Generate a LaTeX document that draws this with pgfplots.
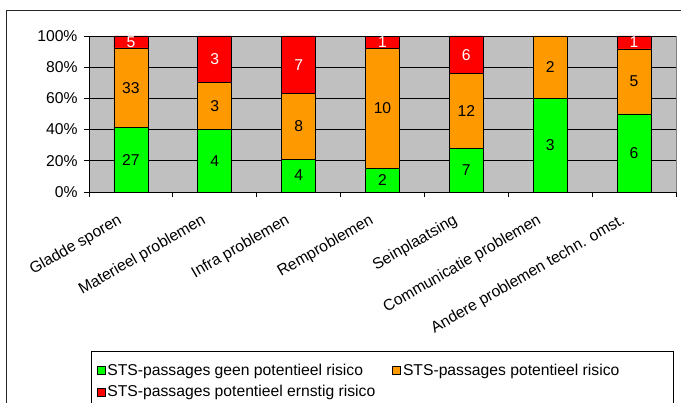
\documentclass[border=0pt]{standalone}
\usepackage{fontspec}
\setmainfont{Liberation Sans}
\usepackage{pgfplots}
\pgfplotsset{compat=1.18}
\usepackage{pgfplotstable}

\definecolor{cgreen}{HTML}{00FF00}
\definecolor{corange}{HTML}{FF9900}
\definecolor{cred}{HTML}{FF0000}
\definecolor{cbg}{HTML}{C0C0C0}

% percentages of each category (counts: green/orange/red)
\pgfplotstableread{
x g o r
0 41.54 50.77 7.69
1 40 30 30
2 21.05 42.11 36.84
3 15.38 76.92 7.69
4 28 48 24
5 60 40 0
6 50 41.67 8.33
}\pct

% label positions (segment middles) and counts
\pgfplotstableread{
x y lab
0 20.77 27
1 20 4
2 10.53 4
3 7.69 2
4 14 7
5 30 3
6 25 6
}\labg
\pgfplotstableread{
x y lab
0 66.92 33
1 55 3
2 42.11 8
3 53.85 10
4 52 12
5 80 2
6 70.83 5
}\labo
\pgfplotstableread{
x y lab
0 96.15 5
1 85 3
2 81.58 7
3 96.15 1
4 88 6
6 95.83 1
}\labr

\newcommand{\fs}{\fontsize{15.7}{18.5}\selectfont}

\begin{document}
\begin{tikzpicture}[font=\fs]
\useasboundingbox (0pt,0pt) rectangle (681pt,403pt);
\draw[line width=1pt, black!85] (6pt,-20pt) rectangle (700pt,392pt);
% legend frame
\draw[line width=0.8pt, black] (91pt,-20pt) rectangle (673pt,52pt);
\begin{axis}[
  at={(89pt,211pt)}, anchor=south west,
  scale only axis, width=587pt, height=156pt,
  ybar stacked, bar width=34pt,
  xmin=-0.5, xmax=6.5, ymin=0, ymax=100,
  axis background/.style={fill=cbg, draw=gray, line width=0.8pt},
  axis lines*=left, axis line style={-, black, line width=0.8pt},
  ymajorgrids, grid style={black, line width=0.8pt},
  ytick={0,20,40,60,80,100},
  yticklabels={0\%,20\%,40\%,60\%,80\%,100\%},
  yticklabel style={xshift=-3pt, font=\fs},
  tick align=outside, major tick length=5pt,
  tick style={black, line width=0.8pt},
  xtick={-0.5,0.5,...,6.5}, xticklabels={},
  extra x ticks={0,1,2,3,4,5,6},
  extra x tick labels={Gladde sporen,Materieel problemen,Infra problemen,Remproblemen,Seinplaatsing,Communicatie problemen,Andere problemen techn. omst.},
  extra x tick style={major tick length=0pt, tick label style={xshift=-14pt, yshift=-21pt, rotate=30, anchor=north east, inner sep=0pt, font=\fs}},
  legend columns=2,
  legend cell align=left,
  legend image code/.code={\draw[#1, line width=0.7pt] (0pt,-4pt) rectangle (8pt,4pt);},
  legend style={at={(axis description cs:0.0034,-1.0192)}, anchor=north west,
    draw=none, fill=none, inner xsep=5.5pt, inner ysep=11pt, row sep=4.5pt,
    font=\fs,
    /tikz/every even column/.append style={column sep=15pt}},
]
\addplot[fill=cgreen, draw=black, line width=0.8pt] table[x=x,y=g]{\pct};
\addlegendentry{STS-passages geen potentieel risico}
\addplot[fill=corange, draw=black, line width=0.8pt] table[x=x,y=o]{\pct};
\addlegendentry{STS-passages potentieel risico}
\addplot[fill=cred, draw=black, line width=0.8pt] table[x=x,y=r]{\pct};
\addlegendentry{STS-passages potentieel ernstig risico}
\end{axis}
\begin{axis}[
  at={(89pt,211pt)}, anchor=south west,
  scale only axis, width=587pt, height=156pt,
  xmin=-0.5, xmax=6.5, ymin=0, ymax=100,
  hide axis, clip=false,
  nodes near coords, point meta=explicit symbolic,
  nodes near coords style={anchor=center, font=\fs, inner sep=0pt},
]
\addplot[draw=none, mark=none, nodes near coords style={text=black}] table[x=x,y=y,meta=lab]{\labg};
\addplot[draw=none, mark=none, nodes near coords style={text=black}] table[x=x,y=y,meta=lab]{\labo};
\addplot[draw=none, mark=none, nodes near coords style={text=white}] table[x=x,y=y,meta=lab]{\labr};
\end{axis}
\end{tikzpicture}
\end{document}
